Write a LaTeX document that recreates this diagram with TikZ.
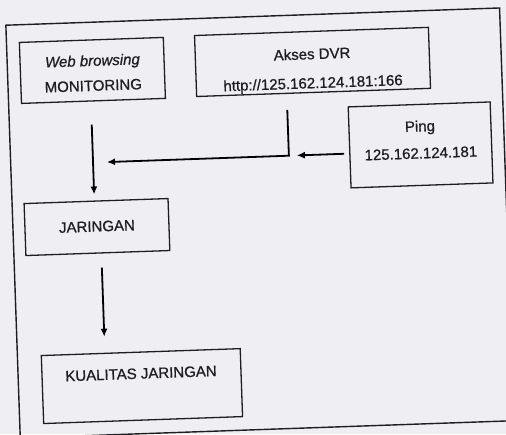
\documentclass[tikz,border=0pt]{standalone}
\usepackage{fontspec}
\setmainfont{Liberation Sans}[FakeBold=0.8]
\usetikzlibrary{arrows.meta}
\definecolor{paper}{RGB}{238,238,243}
\definecolor{ink}{RGB}{30,30,34}
\tikzset{
  box/.style={draw=ink, line width=1.3pt, inner sep=0pt, transform shape},
  txt/.style={text=ink, align=center, inner sep=0pt, transform shape},
  arr/.style={draw=black, line width=1.8pt, -{Latex[length=8pt,width=7pt]}},
  frm/.style={draw=ink, line width=1.4pt, inner sep=0pt, transform shape}
}
\begin{document}
\begin{tikzpicture}[x=1pt,y=-1pt]
\fill[paper] (0,0) rectangle (506,434);
\useasboundingbox (0,0) rectangle (506,434);
\begin{scope}[rotate around={2:(253,217)}]
  \node[frm, anchor=north west, minimum width=494pt, minimum height=413pt] (frame) at (12,16) {};
  % boxes
  \node[box, minimum width=144pt, minimum height=61pt] (web) at (97.6,64.9) {};
  \node[box, minimum width=234pt, minimum height=61pt] (dvr) at (317.9,64.1) {};
  \node[box, minimum width=142pt, minimum height=81pt] (ping) at (423,150.8) {};
  \node[box, minimum width=144pt, minimum height=52pt, font=\fontsize{15}{18}\selectfont, text=ink] (jar) at (96.7,221.6) {\raisebox{1.5pt}{JARINGAN}};
  \node[box, minimum width=199pt, minimum height=68pt] (kual) at (136.1,382.1) {};
  % texts
  \node[txt, font=\fontsize{15}{25}\selectfont] (webt) at (98,67.5) {\textit{Web browsing}\\MONITORING};
  \node[txt, font=\fontsize{15}{29}\selectfont] (dvrt) at (317.7,72) {Akses DVR\\http://125.162.124.181:166};
  \node[txt, font=\fontsize{15}{27}\selectfont] (pingt) at (423,145.5) {Ping\\125.162.124.181};
  \node[txt, font=\fontsize{15}{18}\selectfont] (kualt) at (135.6,369.5) {KUALITAS JARINGAN};
  % connectors
  \coordinate (elbow) at (291,157);
  \coordinate (tip2) at (109,157);
  \draw[arr, shorten <=23pt, shorten >=6pt] ([xshift=-2.5pt]web.south) -- ([xshift=-1.7pt]jar.north);
  \draw[arr, shorten <=16pt] (dvr.south -| elbow) -- (elbow) -- (tip2);
  \draw[arr, shorten <=5pt, shorten >=8pt] (ping.west |- elbow) -- (elbow);
  \draw[arr, shorten <=14pt, shorten >=16pt] ([xshift=3.5pt]jar.south) -- ([xshift=3.5pt]jar.south |- kual.north);
\end{scope}
\end{tikzpicture}
\end{document}
